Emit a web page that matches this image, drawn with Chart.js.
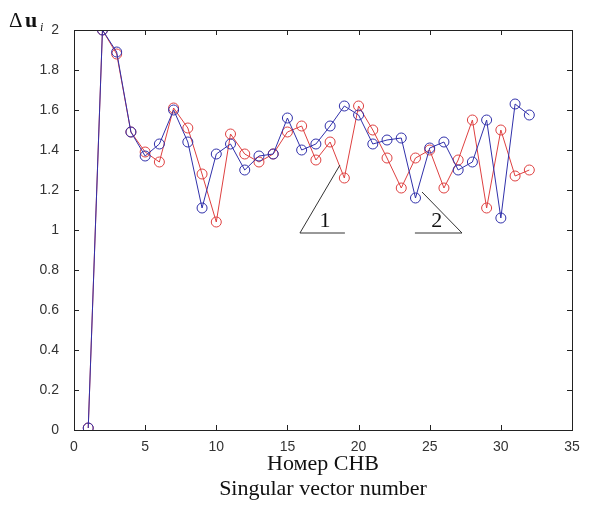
<!DOCTYPE html>
<html>
<head>
<meta charset="utf-8">
<script src="https://cdn.jsdelivr.net/npm/chart.js@4/dist/chart.umd.min.js"></script>
<style>
  html, body { margin: 0; padding: 0; background: #fff; }
  #wrap { width: 592px; height: 506px; }
</style>
</head>
<body>
<div id="wrap"><canvas id="chart" width="592" height="506"></canvas></div>
<script>
// номер сингулярного вектора
const vectorNumber = [1, 2, 3, 4, 5, 6, 7, 8, 9, 10, 11, 12, 13, 14, 15, 16,
  17, 18, 19, 20, 21, 22, 23, 24, 25, 26, 27, 28, 29, 30, 31, 32];

// кривая 2 (синяя)
const curve2 = [0.01, 2.0, 1.89, 1.49, 1.37, 1.43, 1.60, 1.44, 1.11, 1.38, 1.43, 1.30,
  1.37, 1.38, 1.56, 1.40, 1.43, 1.52, 1.62, 1.575, 1.43, 1.45, 1.46, 1.16,
  1.41, 1.44, 1.30, 1.34, 1.55, 1.06, 1.63, 1.575];

// кривая 1 (красная)
const curve1 = [0.01, 2.0, 1.88, 1.49, 1.39, 1.34, 1.61, 1.51, 1.28, 1.04, 1.48, 1.38,
  1.34, 1.38, 1.49, 1.52, 1.35, 1.44, 1.26, 1.62, 1.50, 1.36, 1.21, 1.36,
  1.40, 1.21, 1.35, 1.55, 1.11, 1.50, 1.27, 1.30];

const xTicks = [0, 5, 10, 15, 20, 25, 30, 35];
const yTicks = [0, 0.2, 0.4, 0.6, 0.8, 1, 1.2, 1.4, 1.6, 1.8, 2];

// выноски "1" и "2" (в координатах данных)
const callouts = [
  { label: '1', tip: [18.69, 1.325], base: [15.88, 0.985], end: [19.04, 0.985], text: [17.64, 1.045] },
  { label: '2', tip: [24.46, 1.19], base: [27.27, 0.985], end: [23.96, 0.985], text: [25.5, 1.045] }
];

const toPts = (ys) => vectorNumber.map((x, i) => ({ x, y: ys[i] }));

const BLUE = 'rgb(48,48,170)';
const RED = 'rgb(222,64,64)';

// рамка, внутренние засечки, выноски, подпись оси Y
const framePlugin = {
  id: 'frame',
  afterDraw(chart) {
    const { ctx, chartArea: a, scales } = chart;
    const xs = scales.x, ys = scales.y;
    ctx.save();
    ctx.strokeStyle = '#222';
    ctx.lineWidth = 1;
    ctx.strokeRect(a.left + 0.5, a.top + 0.5, a.right - a.left, a.bottom - a.top);
    ctx.beginPath();
    xTicks.forEach(v => {
      const px = Math.round(xs.getPixelForValue(v)) + 0.5;
      ctx.moveTo(px, a.bottom); ctx.lineTo(px, a.bottom - 5);
      ctx.moveTo(px, a.top); ctx.lineTo(px, a.top + 5);
    });
    yTicks.forEach(v => {
      const py = Math.round(ys.getPixelForValue(v)) + 0.5;
      ctx.moveTo(a.left, py); ctx.lineTo(a.left + 5, py);
      ctx.moveTo(a.right, py); ctx.lineTo(a.right - 5, py);
    });
    ctx.stroke();

    // выноски
    ctx.strokeStyle = '#333';
    ctx.fillStyle = '#111';
    ctx.font = '22px "Liberation Serif", "DejaVu Serif", serif';
    ctx.textAlign = 'center';
    ctx.textBaseline = 'middle';
    callouts.forEach(c => {
      const P = p => [xs.getPixelForValue(p[0]), ys.getPixelForValue(p[1])];
      const t = P(c.tip), b = P(c.base), e = P(c.end), tx = P(c.text);
      ctx.beginPath();
      ctx.moveTo(t[0], t[1]); ctx.lineTo(b[0], b[1]); ctx.lineTo(e[0], e[1]);
      ctx.stroke();
      ctx.fillText(c.label, tx[0], tx[1]);
    });

    // Δu_i
    ctx.textAlign = 'left';
    ctx.textBaseline = 'alphabetic';
    ctx.font = '21px "Liberation Serif", "DejaVu Serif", serif';
    ctx.fillText('Δ', 9, 27);
    ctx.font = 'bold 22px "Liberation Serif", "DejaVu Serif", serif';
    ctx.fillText('u', 25, 27);
    ctx.font = 'italic 12px "Liberation Serif", "DejaVu Serif", serif';
    ctx.fillText('i', 40, 31);
    ctx.restore();
  }
};

const ptStyle = (color) => ({
  borderColor: color,
  borderWidth: 1,
  pointRadius: 5,
  pointBorderWidth: 1,
  pointBorderColor: color,
  pointBackgroundColor: 'rgba(0,0,0,0)',
  pointHoverRadius: 5,
  tension: 0,
  fill: false
});

new Chart(document.getElementById('chart'), {
  type: 'line',
  data: {
    datasets: [
      { label: '2', data: toPts(curve2), ...ptStyle(BLUE) },
      { label: '1', data: toPts(curve1), ...ptStyle(RED) }
    ]
  },
  options: {
    responsive: false,
    animation: false,
    layout: { padding: { left: 0, top: 30, right: 20, bottom: 0 } },
    plugins: {
      legend: { display: false },
      tooltip: { enabled: false }
    },
    scales: {
      x: {
        type: 'linear',
        min: 0, max: 35,
        afterBuildTicks: s => { s.ticks = xTicks.map(v => ({ value: v })); },
        afterFit: s => { s.height = 76; },
        grid: { display: false },
        border: { display: false },
        ticks: {
          padding: 1,
          color: '#333',
          font: { family: '"Liberation Sans", Arial, sans-serif', size: 14 }
        },
        title: {
          display: true,
          text: ['Номер СНВ', 'Singular vector number'],
          color: '#111',
          padding: { top: 0, bottom: 5 },
          font: { family: '"Liberation Serif", "Times New Roman", serif', size: 22, lineHeight: 1.1 }
        }
      },
      y: {
        min: 0, max: 2,
        afterBuildTicks: s => { s.ticks = yTicks.map(v => ({ value: v })); },
        afterFit: s => { s.width = 74; },
        grid: { display: false },
        border: { display: false },
        ticks: {
          padding: 7,
          color: '#333',
          callback: v => String(+v.toFixed(1)),
          font: { family: '"Liberation Sans", Arial, sans-serif', size: 14 }
        }
      }
    }
  },
  plugins: [framePlugin]
});
</script>
</body>
</html>
